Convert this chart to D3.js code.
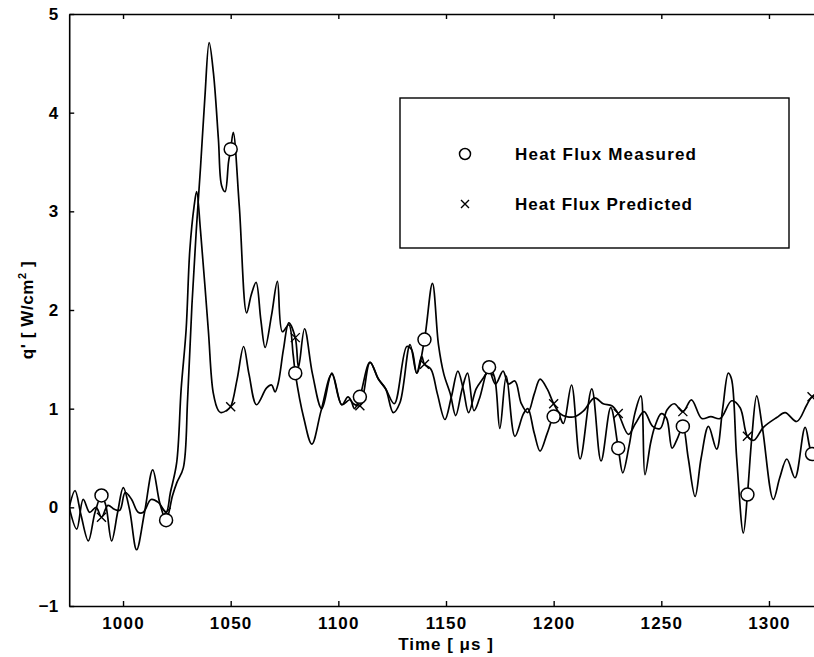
<!DOCTYPE html>
<html>
<head>
<meta charset="utf-8">
<script src="https://cdn.jsdelivr.net/npm/d3@7"></script>
<style>
  html, body { margin: 0; padding: 0; background: #fff; }
  svg { display: block; }
  text { font-family: "Liberation Sans", Arial, Helvetica, sans-serif; font-weight: bold; fill: #000; }
</style>
</head>
<body>
<svg id="chart" width="814" height="657"></svg>
<script>
// ---- data ----
const measuredT = [975,977.7,980.5,983.9,987,990,992,994.7,997.5,1000.1,1003,1006.3,1010,1013.8,1017,1020,1023,1025,1028,1030,1032,1034,1036,1038,1040,1042,1044.3,1045.8,1047.4,1049,1050,1051.2,1054,1057.4,1059.5,1061.8,1064,1066,1069,1071.7,1074,1077,1079,1080,1084,1087.7,1092,1097,1101.6,1105.4,1107.5,1110,1114.7,1118.6,1122,1125.5,1128.6,1133.3,1136.4,1140,1143.7,1146.5,1149,1152,1154.5,1157.5,1160,1163,1165.5,1170,1172.5,1175,1178,1182,1186,1188,1191,1193.7,1197,1200,1202,1204.5,1208.3,1212.3,1217.7,1222,1226.5,1230,1232.1,1235,1237.8,1240.5,1242.4,1245,1247,1250,1252.5,1255,1257.5,1260,1262.5,1265.7,1268.5,1271.9,1275.7,1278.5,1281.1,1282.6,1285,1288.1,1290,1292,1294.3,1297,1302,1305,1308.3,1312.1,1316.8,1320,1325];
const measuredQ = [0.00,0.17,-0.08,-0.34,-0.05,0.12,0.02,-0.34,-0.05,0.20,-0.02,-0.43,-0.05,0.38,0.05,-0.13,0.12,0.25,0.40,1.10,2.05,2.80,3.45,4.15,4.71,4.40,3.73,3.26,3.20,3.50,3.63,3.80,3.05,1.97,2.15,2.28,1.90,1.62,1.95,2.29,1.78,1.85,1.55,1.36,0.90,0.64,0.98,1.35,1.04,1.09,1.00,1.12,1.47,1.30,1.20,0.96,1.06,1.65,1.36,1.70,2.27,1.65,1.35,1.15,0.93,1.20,1.36,0.98,1.10,1.42,1.32,0.80,1.33,0.72,0.95,1.00,0.75,0.57,0.75,0.92,0.95,0.85,1.24,0.49,1.20,0.47,1.01,0.60,0.35,0.62,0.96,1.13,0.33,0.65,0.82,0.95,0.90,0.60,0.70,0.82,0.50,0.11,0.50,0.82,0.59,1.00,1.36,1.30,0.50,-0.26,0.13,0.70,1.13,0.80,0.08,0.30,0.49,0.30,0.81,0.54,0.45];

const predictedT = [975,978.5,981.5,984.5,987.5,990,993,996,998.5,1001,1004,1007,1009.4,1013,1016.4,1020,1022,1024.9,1027,1029.3,1031,1033,1034.2,1036,1039.6,1041.9,1044.3,1045.5,1048,1050,1053,1056,1058.5,1062,1066.7,1069,1070.6,1072.1,1074.5,1077,1080,1081.5,1084.3,1088,1092.3,1097,1101.6,1104.5,1107,1110,1114.7,1118.6,1122,1126,1131.8,1134,1136.4,1138.7,1140,1143,1146,1149.5,1152.5,1155.5,1158,1160.5,1164,1167,1170,1173,1176.5,1179,1182,1185,1188,1191,1193.7,1197,1200,1203,1206,1210,1214,1219,1223,1227,1230,1234.7,1238,1242,1246,1249.5,1252.7,1256,1260,1264,1268.8,1273,1277.3,1282.7,1286.6,1290,1293,1297.4,1303.6,1307.5,1312.9,1317.6,1320,1325];
const predictedQ = [0.00,-0.22,0.08,-0.05,0.00,-0.10,0.02,-0.02,-0.03,0.15,0.08,-0.05,-0.05,0.08,0.05,-0.05,0.15,0.45,1.20,1.80,2.60,3.05,3.20,2.80,1.80,1.16,0.98,0.96,0.98,1.02,1.30,1.63,1.35,1.04,1.21,1.24,1.17,1.26,1.60,1.87,1.72,1.42,1.81,1.35,1.00,1.36,1.04,1.12,1.05,1.03,1.47,1.30,1.20,1.05,1.63,1.60,1.36,1.53,1.45,1.40,1.15,0.89,1.12,1.38,1.20,0.96,1.20,1.30,1.38,1.25,1.38,1.25,1.28,1.05,0.96,1.15,1.30,1.20,1.05,0.95,0.92,0.92,0.98,1.11,1.05,1.03,0.95,0.74,0.85,0.97,0.82,0.80,0.99,1.05,0.97,1.09,0.90,0.92,0.90,1.08,1.01,0.72,0.68,0.81,0.91,0.96,0.87,1.04,1.12,1.15];

const markerT = [990,1020,1050,1080,1110,1140,1170,1200,1230,1260,1290,1320];
const measuredAt = [0.12,-0.13,3.63,1.36,1.12,1.70,1.42,0.92,0.60,0.82,0.13,0.54];
const predictedAt = [-0.10,-0.05,1.02,1.72,1.03,1.45,1.38,1.05,0.95,0.97,0.72,1.12];

const xTicks = [1000,1050,1100,1150,1200,1250,1300];
const yTicks = [-1,0,1,2,3,4,5];
const xLabel = "Time  [ \u03bcs ]";
const yLabel = "q'  [ W/cm";
const legendLabels = ["Heat Flux Measured", "Heat Flux Predicted"];

// ---- layout ----
const svg = d3.select("#chart");
const x = d3.scaleLinear().domain([975, 1325]).range([69.2, 822.8]);
const y = d3.scaleLinear().domain([-1, 5]).range([606, 14]);

svg.append("defs").append("clipPath").attr("id", "plotclip")
  .append("rect").attr("x", 69.2).attr("y", 14).attr("width", 822.8 - 69.2).attr("height", 606 - 14);

// lines
const lineGen = d3.line().x(d => x(d[0])).y(d => y(d[1])).curve(d3.curveCatmullRom.alpha(0.5));
const measured = measuredT.map((t, i) => [t, measuredQ[i]]);
const predicted = predictedT.map((t, i) => [t, predictedQ[i]]);

const plot = svg.append("g").attr("clip-path", "url(#plotclip)");
plot.append("path").datum(predicted).attr("d", lineGen)
  .attr("fill", "none").attr("stroke", "#000").attr("stroke-width", 1.7).attr("stroke-linejoin", "round");
plot.append("path").datum(measured).attr("d", lineGen)
  .attr("fill", "none").attr("stroke", "#000").attr("stroke-width", 1.7).attr("stroke-linejoin", "round");

// markers
const xm = 4.5;
plot.selectAll("g.xmark").data(markerT.map((t, i) => [t, predictedAt[i]])).join("g")
  .attr("class", "xmark")
  .attr("transform", d => `translate(${x(d[0])},${y(d[1])})`)
  .each(function() {
    d3.select(this).append("path")
      .attr("d", `M${-xm},${-xm}L${xm},${xm}M${-xm},${xm}L${xm},${-xm}`)
      .attr("stroke", "#000").attr("stroke-width", 1.4).attr("fill", "none");
  });
plot.selectAll("circle.omark").data(markerT.map((t, i) => [t, measuredAt[i]])).join("circle")
  .attr("class", "omark")
  .attr("cx", d => x(d[0])).attr("cy", d => y(d[1])).attr("r", 6.5)
  .attr("fill", "#fff").attr("stroke", "#000").attr("stroke-width", 1.5);

// axes
const axisStyle = g => {
  g.select(".domain").attr("stroke", "#000").attr("stroke-width", 1.6);
  g.selectAll(".tick line").attr("stroke", "#000").attr("stroke-width", 1.4);
  g.selectAll(".tick text").style("font-size", "17px").style("font-weight", "bold")
    .style("font-family", '"Liberation Sans", Arial, sans-serif').attr("fill", "#000");
};
svg.append("g").attr("transform", `translate(0,${y(-1)})`)
  .call(d3.axisBottom(x).tickValues(xTicks).tickSize(-5).tickSizeOuter(0).tickPadding(11).tickFormat(d3.format("d")))
  .call(axisStyle)
  .call(g => g.selectAll(".tick text").style("letter-spacing", "1.2px"));
svg.append("g").attr("transform", `translate(0,${y(5)})`)
  .call(d3.axisTop(x).tickValues(xTicks).tickSize(-5).tickSizeOuter(0).tickFormat(""))
  .call(axisStyle);
svg.append("g").attr("transform", `translate(${x(975)},0)`)
  .call(d3.axisLeft(y).tickValues(yTicks).tickSize(-5).tickSizeOuter(0).tickPadding(11).tickFormat(d3.format("d")))
  .call(axisStyle);
svg.append("g").attr("transform", `translate(${x(1325)},0)`)
  .call(d3.axisRight(y).tickValues(yTicks).tickSize(-5).tickSizeOuter(0).tickFormat(""))
  .call(axisStyle);

// axis titles
svg.append("text").attr("x", (x(975) + x(1325)) / 2).attr("y", 650)
  .attr("text-anchor", "middle").style("font-size", "17px").style("letter-spacing", "1px")
  .text(xLabel);
const yt = svg.append("text").attr("transform", `translate(33,${(y(-1) + y(5)) / 2}) rotate(-90)`)
  .attr("text-anchor", "middle").style("font-size", "17px").style("letter-spacing", "0.6px");
yt.append("tspan").text(yLabel);
yt.append("tspan").attr("dy", -7).style("font-size", "11px").text("2");
yt.append("tspan").attr("dy", 7).text(" ]");

// legend
const lg = svg.append("g");
lg.append("rect").attr("x", 400).attr("y", 98).attr("width", 389).attr("height", 150)
  .attr("fill", "#fff").attr("stroke", "#000").attr("stroke-width", 1.4);
lg.append("circle").attr("cx", 465).attr("cy", 154).attr("r", 5.5)
  .attr("fill", "none").attr("stroke", "#000").attr("stroke-width", 1.5);
lg.append("path").attr("d", "M461,200L469,208M461,208L469,200")
  .attr("stroke", "#000").attr("stroke-width", 1.4);
lg.append("text").attr("x", 515).attr("y", 160).style("font-size", "17px")
  .attr("textLength", 181).attr("lengthAdjust", "spacing").text(legendLabels[0]);
lg.append("text").attr("x", 515).attr("y", 210).style("font-size", "17px")
  .attr("textLength", 177).attr("lengthAdjust", "spacing").text(legendLabels[1]);
</script>
</body>
</html>
